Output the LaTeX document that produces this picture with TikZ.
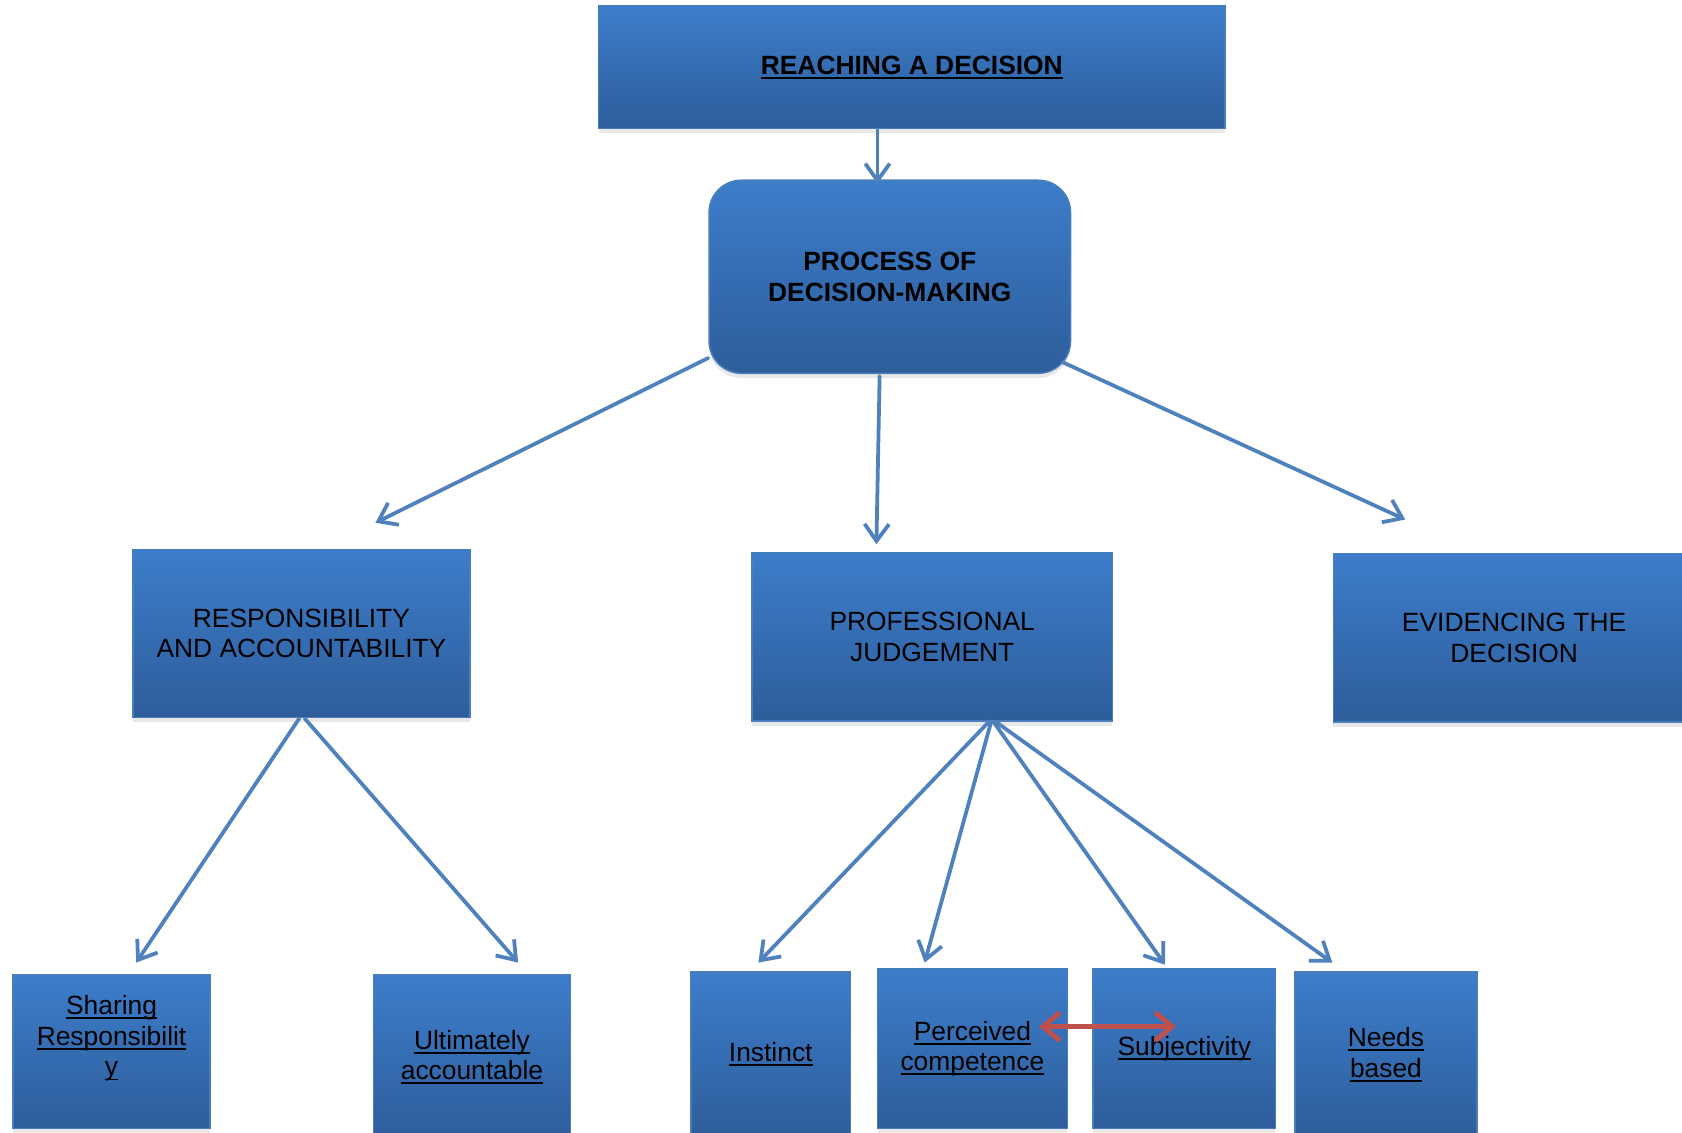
\documentclass[tikz,border=0pt]{standalone}
\usepackage{fontspec}
\setmainfont{Liberation Sans}
\usetikzlibrary{arrows.meta,calc,shadows}

\newcommand{\uw}[1]{\leavevmode\setbox0\hbox{#1}\rlap{\rule[-2.4pt]{\wd0}{1pt}}\box0}

\definecolor{boxtop}{HTML}{3C7DCA}
\definecolor{boxbot}{HTML}{2E5D9B}
\definecolor{boxline}{HTML}{4A7EBB}
\definecolor{linkblue}{HTML}{4F81BD}
\definecolor{linkred}{HTML}{C0504D}

\tikzset{
  box/.style={draw=boxline, line width=0.8pt, top color=boxtop, bottom color=boxbot,
    drop shadow={shadow xshift=0pt, shadow yshift=-2.5pt, opacity=0.18},
    align=center, inner sep=0pt, font=\fontsize{14}{16.2}\selectfont},
  heavy/.style={font=\fontsize{14}{16.2}\selectfont\bfseries},
  link/.style={draw=linkblue, line width=2pt, line cap=round,
    -{Straight Barb[length=9pt,width=13pt]}},
  swap/.style={draw=linkred, line width=2.6pt,
    {Straight Barb[length=9pt,width=15pt]}-{Straight Barb[length=9pt,width=15pt]}},
}

\begin{document}
\begin{tikzpicture}[x=0.02cm, y=-0.02cm]
  \useasboundingbox (0,0) rectangle (1568,1056);
  \clip (0,0) rectangle (1568,1056);
  % top levels
  \node[box, heavy, minimum width=11.68cm, minimum height=2.3cm] (reach) at (850,62.5) {\uw{REACHING A DECISION}};
  \node[box, heavy, rounded corners=0.6cm, minimum width=6.74cm, minimum height=3.6cm] (proc) at (829.5,258) {PROCESS OF\\DECISION-MAKING};
  \node[box, minimum width=6.28cm, minimum height=3.14cm] (resp) at (281,590.5) {RESPONSIBILITY\\AND ACCOUNTABILITY};
  \node[box, minimum width=6.72cm, minimum height=3.14cm] (judge) at (869,593.5) {PROFESSIONAL\\JUDGEMENT};
  \node[box, minimum width=6.74cm, minimum height=3.14cm] (evid) at (1411.5,594.5) {EVIDENCING THE\\DECISION};
  % bottom row
  \node[box, text depth=17pt, minimum width=3.68cm, minimum height=2.86cm] (share) at (104,980.5) {\uw{Sharing}\\\uw{Responsibilit}\\\uw{y}};
  \node[box, minimum width=3.68cm, minimum height=3.06cm] (ulti) at (440,985.5) {\uw{Ultimately}\\\uw{accountable}};
  \node[box, minimum width=2.98cm, minimum height=3.08cm] (inst) at (718.5,983) {\uw{Instinct}};
  \node[box, minimum width=3.54cm, minimum height=2.98cm] (perc) at (906.5,977.5) {\uw{Perceived}\\\uw{competence}};
  \node[box, minimum width=3.40cm, minimum height=2.98cm] (subj) at (1104,977.5) {\uw{Subjectivity}};
  \node[box, minimum width=3.40cm, minimum height=3.08cm] (need) at (1292,983) {\uw{Needs}\\\uw{based}};

  \draw[link] ($(reach.south)+(-32,0)$) -- ($(proc.north)+(-11.5,4)$);
  \draw[link] ($(proc.south west)+(0,-15)$) -- ($(resp.north)+(69,-24)$);
  \draw[link] ($(proc.south)+(-9.5,2)$) -- ($(judge.north)+(-52,-7)$);
  \draw[link] ($(proc.south east)+(-8,-11)$) -- ($(evid.north)+(-101.5,-31)$);
  \draw[link] ($(resp.south)+(-2,0)$) -- ($(share.north)+(23,-11)$);
  \draw[link] ($(resp.south)+(3,0)$) -- ($(ulti.north)+(43,-11)$);
  \draw[link] ($(judge.south)+(53,0)$) -- ($(inst.north)+(-11.5,-8)$);
  \draw[link] ($(judge.south)+(55,0)$) -- ($(perc.north)+(-44.5,-5)$);
  \draw[link] ($(judge.south)+(57,0)$) -- ($(subj.north)+(-18,-3)$);
  \draw[link] ($(judge.south)+(59,0)$) -- ($(need.north)+(-50,-8)$);
  \draw[swap] ($(perc.east)+(-27,-20.5)$) -- ($(subj.west)+(78,-20.5)$);
\end{tikzpicture}
\end{document}
